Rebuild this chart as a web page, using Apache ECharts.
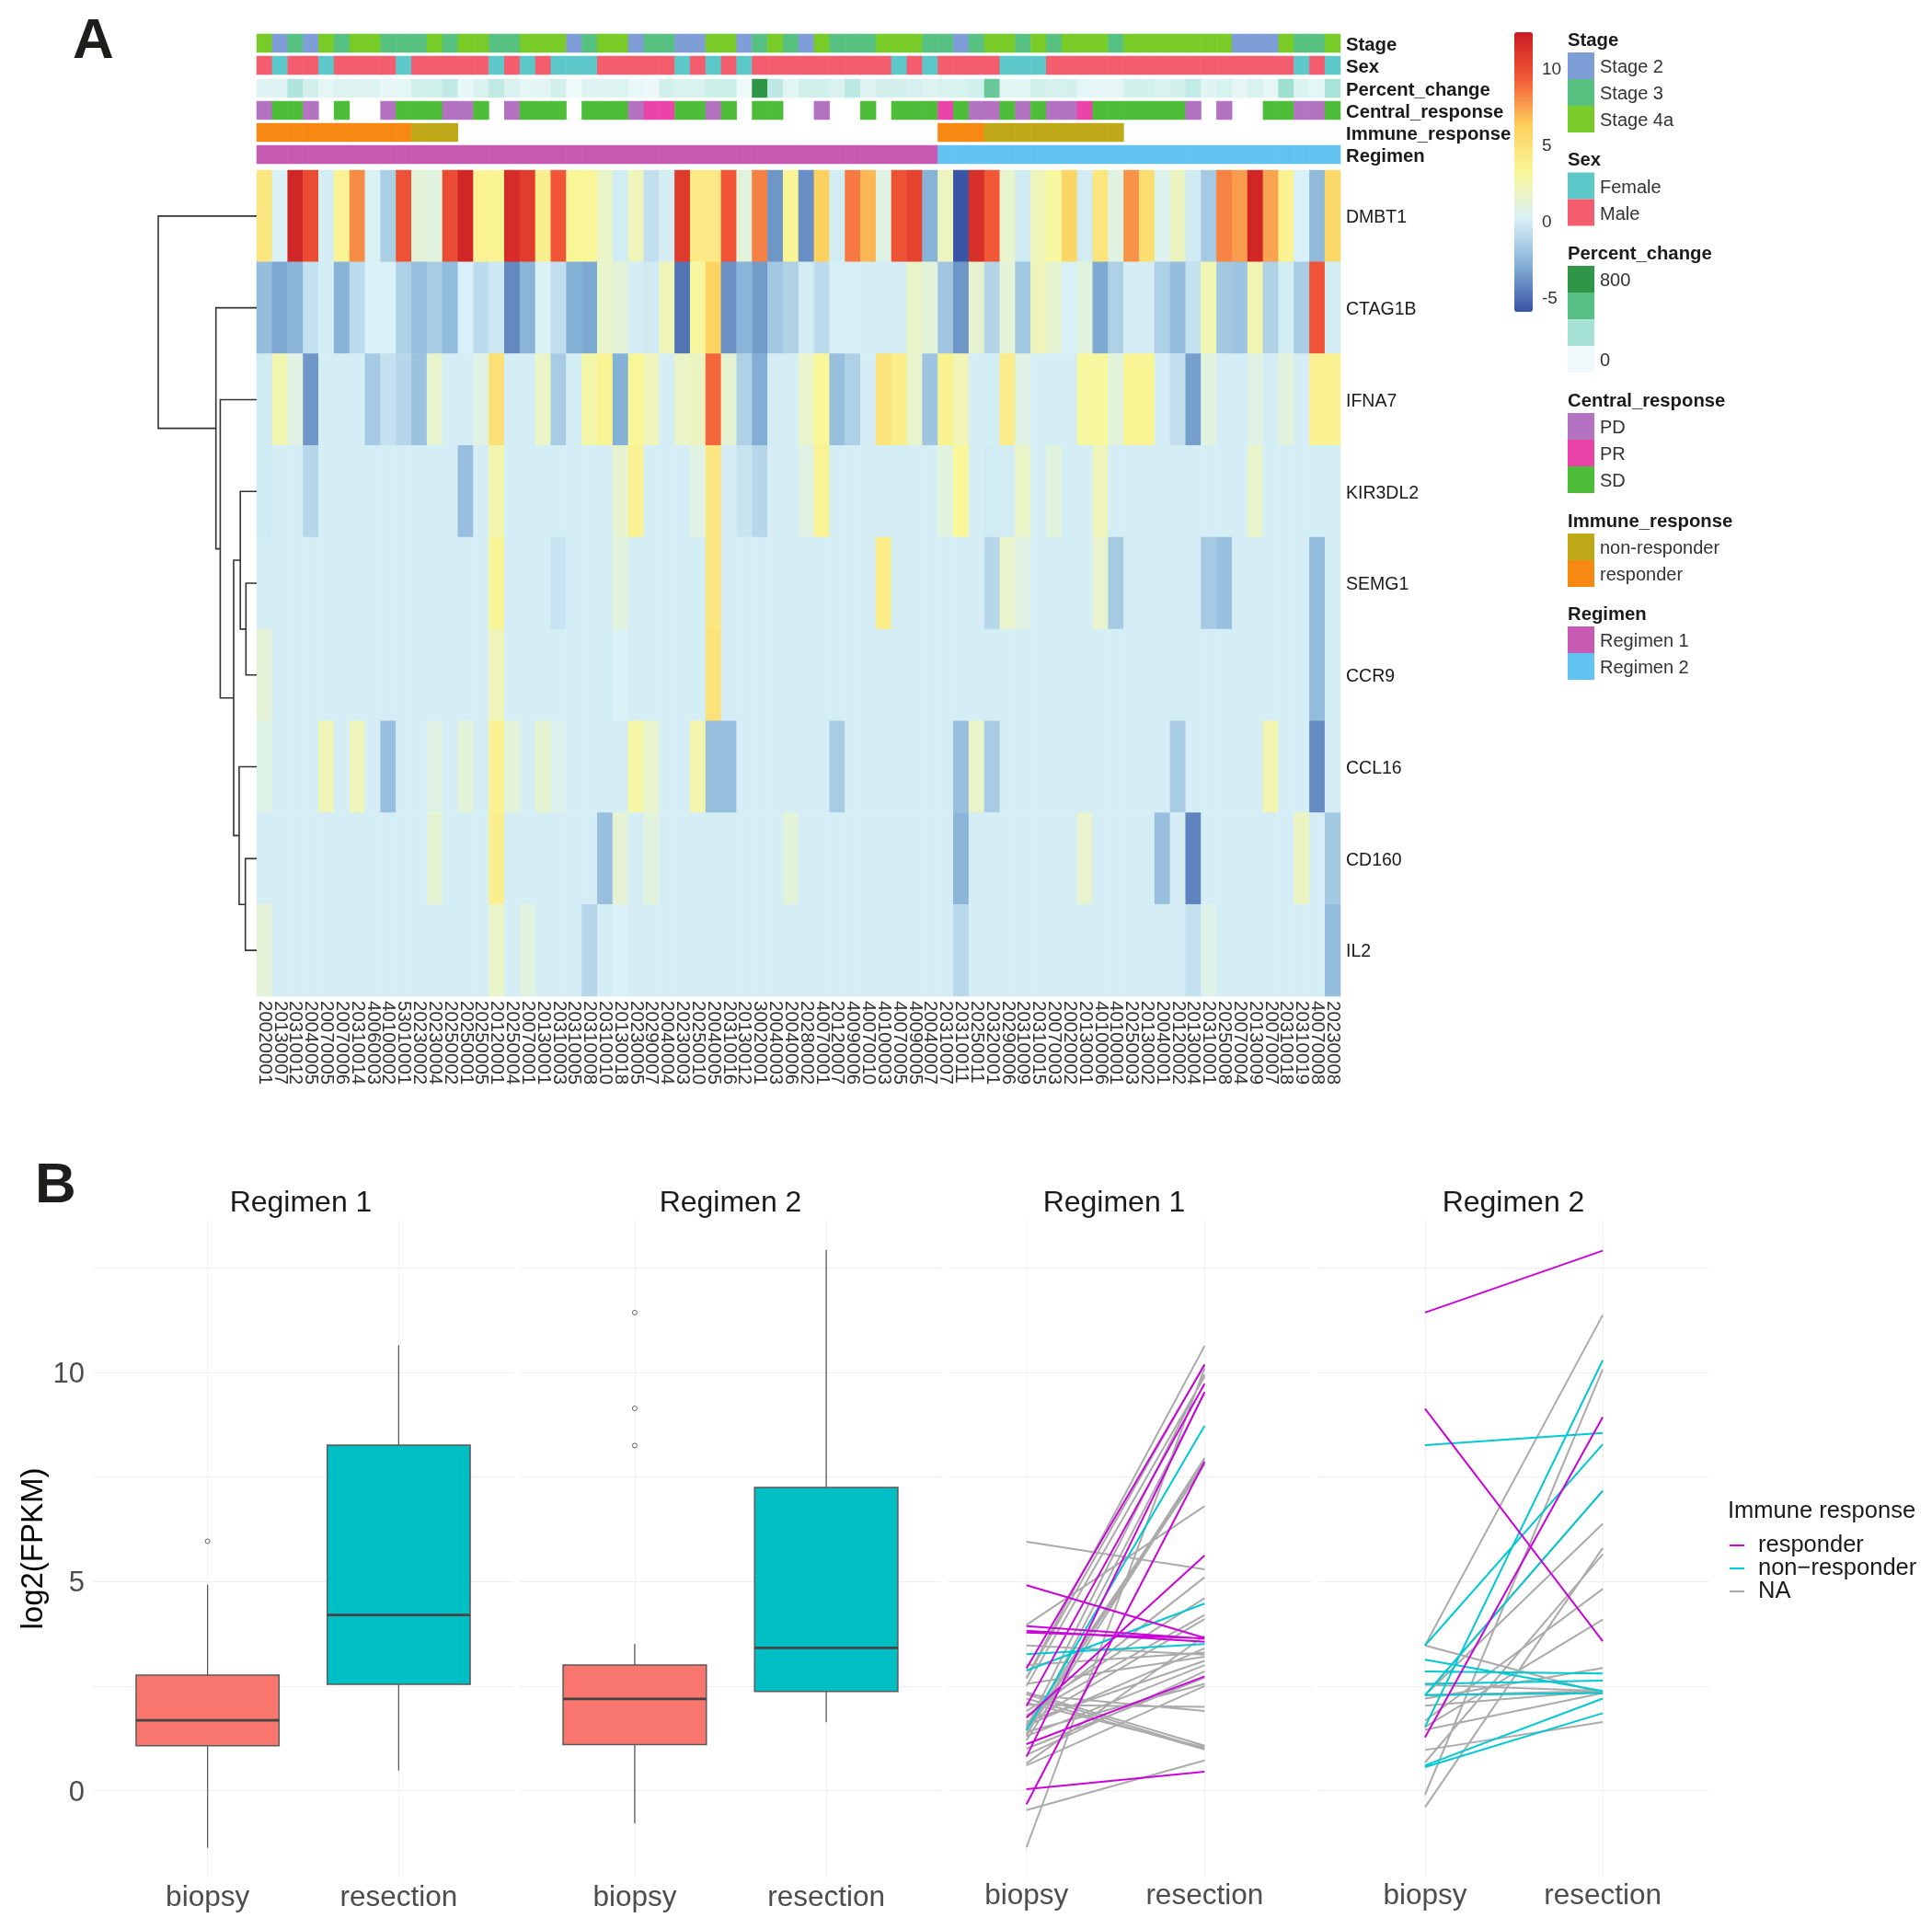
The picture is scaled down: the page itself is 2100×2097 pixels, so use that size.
<!DOCTYPE html>
<html>
<head>
<meta charset="utf-8">
<title>Heatmap and FPKM plots</title>
<style>
  html, body { margin: 0; padding: 0; background: #fff; }
  #main { width: 2100px; height: 2097px; }
</style>
<script src="https://cdn.jsdelivr.net/npm/echarts@6/dist/echarts.min.js"></script>
</head>
<body>
<div id="main"></div>
<script>
const sampleIds = ["20020001","20130007","20310012","20040005","20070005","20070006","20310014","40060003","40100002","53010001",
  "20230002","20230004","20250002","20250001","20250005","20120001","20250004","20070001","20130001","20310003",
  "20310005","20310008","20310010","20130018","20230005","20290007","20040004","20230003","20250010","20040005",
  "20310016","20130012","30020001","20040003","20040006","20280002","40070001","20120007","40090006","40070010",
  "40100003","40070005","40090005","20040007","20310007","20310011","20250011","20320001","20290006","20310009",
  "20310015","20070003","20020002","20130001","40100006","40100001","20250003","20130002","20040001","20120002",
  "20130004","20310001","20250008","20070004","20130009","20070007","20310018","20310019","40070008","20230008"];

const geneNames = ["DMBT1","CTAG1B","IFNA7","KIR3DL2","SEMG1","CCR9","CCL16","CD160","IL2"];

const DMBT1 = [4.5,0.2,11.8,10,0,3.5,8,0.2,-1.5,9.7,1.2,0.9,10,11.8,3.5,3.5,11.5,10.7,3.8,9.5,3.3,3.3,1.7,-0.1,2.2,-0.7,0,10.8,4.3,4.3,9.6,1,8.3,-3.8,3.4,-4,6.2,-0.1,8.5,6.9,0.8,9.7,10.4,-2.8,2,-5.9,11.3,9.4,1.6,-0.2,2.1,3,5.8,-0.1,4.6,0.9,7.8,5.2,0.5,1.9,-0.2,-1.7,8.2,7.6,11.8,7.4,3.6,0.1,-2.5,5.6];
const CTAG1B = [-2.3,-3.2,-2.7,-0.6,0,-2.8,-0.9,0.1,0.1,-1.4,-2.2,-1.6,-2.4,0.1,-0.9,-0.3,-4.2,-2.7,0.2,-0.7,-2.9,-3.2,1.6,1.1,0,-0.2,2.2,-4.9,3,6,-3.9,-2.7,-3.6,-1.8,-1.4,-0.1,-0.9,0.05,0.05,0,0,0,1.7,1.1,-1.9,-3.8,1.4,-1.2,1.2,-1.8,2.2,1.4,0.1,1,-3.1,-1.4,0,0,-1.4,-2.3,-0.6,2.4,-1.8,-2,2.4,-1.4,-0.1,-1.6,9.6,-0.1];
const IFNA7 = [-0.2,2.4,0.8,-3.8,0,0,0,-1.7,-0.6,-1.1,-2.1,1.5,0,0,0.8,5,0,0,1.8,-1.6,0,2.7,3.5,-2.9,3.3,2.2,0,1.7,1.9,9,1.4,-1.4,-3,0,0,1.6,3.2,-2.2,-1.4,0,4.7,4,1.5,-2,3.7,2.3,0,0,4,0.8,0,0,0,3,3,1,3.5,3.5,0,-0.7,-3.5,1,0,0,0.8,0,1,0,3.6,3.6];
const KIR3DL2 = [-0.2,0,0,-1.1,0,0,0,0,0,0,0,0,0,-2.2,0,2.5,0,0,0,0,0,0,0,1.4,3.6,0,0,0,0.8,4.5,0,-0.5,-1.1,0,0,0.8,3.5,0,0,0,0,0,0,0,1,3.2,0,-0.1,-0.05,1.7,0,1,0,0,2.1,0,0,0,0,0,0,0,0,0,1.6,0,0,0,0,0];
const SEMG1 = [0,0,0,0,0,0,0,0,0,0,0,0,0,0,0,3.4,0,0,0,-0.5,0,0,0,1,0,0,0,0,0,4.5,0,0,0,0,0,0,0,0,0,0,4,0,0,0,0,0,0,-1.1,1.6,0.8,0,0,0,0,1.5,-1.7,0,0,0,0,0,-1.7,-2.2,0,0,0,0,0,-2.4,0];
const CCR9 = [1.2,0,0,0,0,0,0,0,0,0,0,0,0,0,0,2.2,0,0,0,0,0,0,0,0.2,0,0,0,0,0,4.8,0,0,0,0,0,0,0,0,0,0,0,0,0,0,0,0,0,0,0,0,0,0,0,0,0,0,0,0,0,0,0,0,0,0,0,0,0,0,-2.4,0];
const CCL16 = [0.7,0,0,0,2.2,0,2.1,0,-2.2,0,0,0.8,0,1.1,0,3.6,1.2,0,1.4,0.5,0,0,0,0,2.8,1.6,0,0,2.6,-2.2,-2.2,0,0,0,0,0,0,-1.6,0,0,0,0,0,0,0,-2.2,1.7,-1.6,0,0,0,0,0,0,0,0,0,0,0,-1.6,0,0,0,0,0,2.4,0,0,-4.1,0];
const CD160 = [0,0,0,0,0,0,0,0,0,0,0,1.3,0,0,0,3.8,0,0,0,0,0,0,-2.2,1.3,0,1,0,0,0,0,0,0,0,0,1.1,0,0,0,0,0,0,0,0,0,0,-2.7,0,0,0,0,0,0,0,1.5,0,0,0,0,-2.2,0,-4.4,0,0,0,0,0,0,1.9,0,-1.8];
const IL2 = [1.2,0,0,0,0,0,0,0,0,0,0,0,0,0,0,1.7,0,0.9,0,0,0,-1.1,0,0.2,0,0,0,0,0,0,0,0,0,0,0,0,0,0,0,0,0,0,0,0,0,-1,0,0,0,0,0,0,0,0,0,0,0,0,0,0,-0.6,0.6,0,0,0,0,0,0,0,-2.3];
const geneValues = [DMBT1, CTAG1B, IFNA7, KIR3DL2, SEMG1, CCR9, CCL16, CD160, IL2];

const stageLevels = ["Stage 2","Stage 3","Stage 4a"];
const sexLevels = ["Female","Male"];
const percentLevels = ["800","","","0"];
const centralLevels = ["PD","PR","SD"];
const immuneLevels = ["non-responder","responder"];
const regimenLevels = ["Regimen 1","Regimen 2"];

const stageTrack = [2,0,1,0,2,1,2,2,1,1,1,2,1,2,2,1,1,2,2,2,0,1,2,2,0,1,1,0,0,2,2,0,1,2,1,0,2,1,1,1,2,2,2,1,1,0,1,2,2,1,2,1,2,2,2,1,2,2,2,2,2,2,2,0,0,0,2,1,1,2];
const sexTrack = [1,0,1,1,0,1,1,1,1,0,1,1,1,1,1,0,1,0,1,0,0,0,1,1,1,1,1,0,1,0,1,0,1,1,1,1,1,1,1,1,1,0,1,0,1,1,1,1,0,0,0,1,1,1,1,1,1,1,1,1,1,1,1,1,1,1,1,0,1,0];
const percentTrack = [60,60,230,100,40,70,70,70,30,40,110,120,170,30,80,170,80,40,45,110,5,60,60,70,25,10,110,80,80,130,130,5,800,180,50,110,110,80,190,60,100,100,90,70,85,85,110,470,45,45,110,90,100,40,40,40,105,105,80,100,160,60,85,40,85,40,290,75,35,260];
const centralTrack = [0,2,2,0,null,2,null,null,0,2,2,2,0,0,2,null,0,2,2,2,null,2,2,2,0,1,1,2,2,0,2,null,2,2,null,null,0,null,null,2,null,2,2,2,1,2,0,0,2,0,2,0,0,1,2,2,2,2,2,2,0,null,0,null,null,2,2,0,0,2];
const immuneTrack = [1,1,1,1,1,1,1,1,1,1,0,0,0,null,null,null,null,null,null,null,null,null,null,null,null,null,null,null,null,null,null,null,null,null,null,null,null,null,null,null,null,null,null,null,1,1,1,0,0,0,0,0,0,0,0,0,null,null,null,null,null,null,null,null,null,null,null,null,null,null];
const regimenTrack = [0,0,0,0,0,0,0,0,0,0,0,0,0,0,0,0,0,0,0,0,0,0,0,0,0,0,0,0,0,0,0,0,0,0,0,0,0,0,0,0,0,0,0,0,1,1,1,1,1,1,1,1,1,1,1,1,1,1,1,1,1,1,1,1,1,1,1,1,1,1];

// [first child, second child, height]; ids below 9 are genes, merges count on from 9
const dendroMerges = [[4,5,0.109],[3,9,0.166],[7,8,0.115],[6,11,0.178],[10,12,0.234],[2,13,0.37],[1,14,0.414],[0,15,1]];

const colorbarTicks = [10,5,0,-5];
const fpkmLabelTicks = [0,5,10];
const fpkmGridTicks = [0,2.5,5,7.5,10,12.5];
const sampleTypes = ["biopsy","resection"];

// low, q1, median, q3, high
const reg1Biopsy = [-1.37,1.07,1.68,2.76,4.92];
const reg1Resection = [0.48,2.54,4.2,8.26,10.65];
const reg2Biopsy = [-0.79,1.1,2.19,3,3.5];
const reg2Resection = [1.63,2.37,3.41,7.25,12.93];
const reg1Outliers = [5.96];
const reg2Outliers = [11.43,9.14,8.25];

// pairs are [biopsy, resection]
const reg1Responder = [[4.91,3.65],[3.93,3.63],[3.82,3.56],[3.78,3.64],[2.92,10.18],[2.02,9.73],[1.74,5.62],[0.81,9.53],[1.11,2.73],[0.03,0.45],[-0.33,7.86]];
const reg1NonResponder = [[1.44,8.72],[3.26,3.5],[2.87,4.47]];
const reg1Unknown = [[5.95,5.29],[3.96,6.8],[2.7,10.63],[3.47,3.25],[2.68,10.2],[2.5,9.9],[1.5,9.95],[1.3,9.5],[1.35,7.95],[1.45,7.8],[1.2,7.9],[1.55,7.85],[-1.36,10.1],[2.55,3.2],[3,3.3],[2.3,1.9],[2.35,1.07],[2.2,0.98],[2.3,1],[2.1,1.03],[2.05,2],[1.9,4.6],[1.8,4.2],[1.75,5.1],[1.65,3.1],[1.6,4.1],[1.55,3.4],[1,2.7],[0.6,2.5],[0.85,2.85],[0.65,3.7],[-0.47,0.72],[1.4,2.55],[1.3,3]];
const reg2Responder = [[11.43,12.91],[9.13,3.57],[1.27,8.93]];
const reg2NonResponder = [[8.26,8.55],[3.47,8.28],[1.52,10.29],[2.28,7.17],[3.13,2.38],[2.85,2.8],[2.55,2.63],[2.28,2.33],[0.6,2.2],[0.56,1.85]];
const reg2Unknown = [[3.47,11.37],[3.47,2.33],[-0.1,10.07],[-0.4,5.8],[0.67,5.65],[0.97,1.64],[1.45,2.33],[1.67,4.82],[1.52,4.09],[2.03,2.38],[2.2,2.93],[2.28,7.17],[2.28,6.38],[2.53,2.38],[2.28,2.38]];

const FONT = "'Liberation Sans', Arial, sans-serif";
const HEAT_LEFT = 279, HEAT_WIDTH = 1178;
const FPKM_MIN = -2.08, FPKM_MAX = 13.65;
const BOX_HALF = 0.374;

let grid = [], xAxis = [], yAxis = [], series = [], visualMap = [], graphic = [];

function addText(text, x, y, size, color, opts) {
  graphic.push({
    type: "text", x: x, y: y + 2, silent: true,
    style: {
      text: text, fill: color,
      font: ((opts && opts.bold) ? "bold " : "") + size + "px " + FONT,
      textAlign: (opts && opts.align) || "left", textVerticalAlign: "middle"
    }
  });
}

// ---- annotation tracks above the heatmap
const tracks = [
  { name: "Stage", top: 37, values: stageTrack, colors: ["#7f9ed8","#56c180","#79cb28"] },
  { name: "Sex", top: 61, values: sexTrack, colors: ["#5cc8c9","#f45d6e"] },
  { name: "Percent_change", top: 86, values: percentTrack, ramp: ["#eff9fb","#a6e2d6","#56c084","#2f9648"] },
  { name: "Central_response", top: 110, values: centralTrack, colors: ["#b473c0","#eb44a9","#4dbd3a"] },
  { name: "Immune_response", top: 134, values: immuneTrack, colors: ["#c0a918","#f78812"] },
  { name: "Regimen", top: 158, values: regimenTrack, colors: ["#c65ab2","#60c3f0"] }
];

tracks.forEach(function (t, i) {
  grid.push({ left: HEAT_LEFT, width: HEAT_WIDTH, top: t.top, height: 20 });
  xAxis.push({ gridIndex: i, type: "category", data: sampleIds, show: false });
  yAxis.push({
    gridIndex: i, type: "category", data: [t.name], position: "right",
    axisLine: { show: false }, axisTick: { show: false },
    axisLabel: { color: "#1a1a1a", fontFamily: FONT, fontWeight: "bold", fontSize: 20.3, margin: 6, verticalAlign: "top", lineHeight: 5 }
  });
  let cells = [];
  t.values.forEach(function (v, col) {
    if (v !== null) cells.push([col, 0, v]);
  });
  series.push({ type: "heatmap", xAxisIndex: i, yAxisIndex: i, data: cells, silent: true });
  if (t.ramp) {
    visualMap.push({ type: "continuous", show: false, min: 0, max: 800, seriesIndex: i, inRange: { color: t.ramp } });
  } else {
    visualMap.push({
      type: "piecewise", show: false, seriesIndex: i,
      pieces: t.colors.map(function (c, k) { return { value: k, color: c }; })
    });
  }
});

// ---- main heatmap
const HEAT = grid.length;
grid.push({ left: HEAT_LEFT, width: HEAT_WIDTH, top: 185, height: 898 });
xAxis.push({
  gridIndex: HEAT, type: "category", data: sampleIds,
  axisLine: { show: false }, axisTick: { show: false },
  axisLabel: { interval: 0, rotate: -90, color: "#333", fontFamily: FONT, fontSize: 20.5, margin: 5 }
});
yAxis.push({
  gridIndex: HEAT, type: "category", data: geneNames, inverse: true, position: "right",
  axisLine: { show: false }, axisTick: { show: false },
  axisLabel: { color: "#1a1a1a", fontFamily: FONT, fontSize: 19.5, margin: 6, verticalAlign: "top", lineHeight: 4 }
});
let heatCells = [];
geneValues.forEach(function (vals, row) {
  vals.forEach(function (v, col) { heatCells.push([col, row, v]); });
});
series.push({ type: "heatmap", xAxisIndex: HEAT, yAxisIndex: HEAT, data: heatCells, silent: true });
visualMap.push({
  type: "continuous", seriesIndex: HEAT, min: -5.96, max: 12.35,
  left: 1646, top: 35, itemWidth: 20, itemHeight: 304, padding: 0,
  calculable: false, hoverLink: false, silent: true,
  inRange: { color: ["#3953a4","#84b1d6","#d9f1f7","#f9f79a","#fdd05c","#f35a38","#c91a22"] }
});

// ---- row dendrogram, x is merge height and y is row position
const DENDRO = grid.length;
grid.push({ left: 172, width: 107, top: 185, height: 898 });
xAxis.push({ gridIndex: DENDRO, type: "value", min: 0, max: 1, inverse: true, show: false });
yAxis.push({ gridIndex: DENDRO, type: "value", min: 0, max: geneNames.length, inverse: true, show: false });
let nodes = geneNames.map(function (n, i) { return { y: i + 0.5, h: 0 }; });
let dendroLinks = [];
dendroMerges.forEach(function (m) {
  let a = nodes[m[0]], b = nodes[m[1]];
  dendroLinks.push({ coords: [[a.h, a.y], [m[2], a.y], [m[2], b.y], [b.h, b.y]] });
  nodes.push({ y: (a.y + b.y) / 2, h: m[2] });
});
series.push({
  type: "lines", coordinateSystem: "cartesian2d", polyline: true, silent: true,
  xAxisIndex: DENDRO, yAxisIndex: DENDRO, data: dendroLinks,
  lineStyle: { color: "#333", width: 1.6, opacity: 1 }
});

// ---- facets of panel B
function addFacet(left, width, xMin, xMax, showY, labelMargin) {
  let idx = grid.length;
  grid.push({ left: left, width: width, top: 1326, height: 715 });
  xAxis.push({
    gridIndex: idx, type: "value", min: xMin, max: xMax,
    axisLine: { show: false },
    axisTick: { show: false, customValues: [1, 2] },
    splitLine: { show: true, lineStyle: { color: "#f0f0f0", width: 1 } },
    axisLabel: {
      customValues: [1, 2], color: "#4d4d4d", fontFamily: FONT, fontSize: 31.5, margin: labelMargin,
      formatter: function (v) { return sampleTypes[v - 1]; }
    }
  });
  yAxis.push({
    gridIndex: idx, type: "value", min: FPKM_MIN, max: FPKM_MAX,
    name: showY ? "log2(FPKM)" : "", nameLocation: "middle", nameGap: 47,
    nameTextStyle: { color: "#000", fontFamily: FONT, fontSize: 33 },
    axisLine: { show: false },
    axisTick: { show: false, customValues: fpkmGridTicks },
    splitLine: { show: true, lineStyle: { color: "#f0f0f0", width: 1 } },
    axisLabel: {
      show: showY, customValues: fpkmLabelTicks, color: "#4d4d4d",
      fontFamily: FONT, fontSize: 31, margin: 9, verticalAlign: "top", lineHeight: 5
    }
  });
  return idx;
}

function renderBox(params, api) {
  let x = api.value(0);
  let low = api.coord([x, api.value(1)]);
  let q1 = api.coord([x, api.value(2)]);
  let med = api.value(3);
  let q3 = api.coord([x, api.value(4)]);
  let high = api.coord([x, api.value(5)]);
  let medL = api.coord([x - BOX_HALF, med]);
  let medR = api.coord([x + BOX_HALF, med]);
  let whisker = { stroke: "#5a5a5a", lineWidth: 1.3 };
  return {
    type: "group",
    children: [
      { type: "line", shape: { x1: low[0], y1: low[1], x2: q1[0], y2: q1[1] }, style: whisker },
      { type: "line", shape: { x1: q3[0], y1: q3[1], x2: high[0], y2: high[1] }, style: whisker },
      {
        type: "rect",
        shape: { x: medL[0], y: q3[1], width: medR[0] - medL[0], height: q1[1] - q3[1] },
        style: { fill: x === 1 ? "#f8766d" : "#00bfc4", stroke: "#5a5a5a", lineWidth: 1.5 }
      },
      { type: "line", shape: { x1: medL[0], y1: medL[1], x2: medR[0], y2: medR[1] }, style: { stroke: "#444", lineWidth: 2.8 } }
    ]
  };
}

function addBoxes(idx, biopsy, resection, outliers) {
  series.push({
    type: "custom", xAxisIndex: idx, yAxisIndex: idx, renderItem: renderBox, silent: true,
    encode: { x: 0, y: [1, 2, 3, 4, 5] },
    data: [[1].concat(biopsy), [2].concat(resection)]
  });
  series.push({
    type: "scatter", xAxisIndex: idx, yAxisIndex: idx, silent: true, symbolSize: 5,
    itemStyle: { color: "#fff", borderColor: "#666", borderWidth: 1, opacity: 1 },
    data: outliers.map(function (v) { return [1, v]; })
  });
}

function addPairs(idx, name, color, pairs) {
  let pts = [];
  pairs.forEach(function (p) {
    pts.push([1, p[0]], [2, p[1]], [1, "-"]);
  });
  series.push({
    type: "line", name: name, xAxisIndex: idx, yAxisIndex: idx, silent: true,
    showSymbol: false, symbol: "none", connectNulls: false, data: pts,
    lineStyle: { color: color, width: 2 }, itemStyle: { color: color }
  });
}

const RESP = "responder", NONRESP = "non\u2212responder", NA = "NA";
const RESP_C = "#c905d8", NONRESP_C = "#00c9d1", NA_C = "#ababab";

addBoxes(addFacet(101, 457, 0.4, 2.6, true, 6), reg1Biopsy, reg1Resection, reg1Outliers);
addBoxes(addFacet(565, 458, 0.4, 2.6, false, 6), reg2Biopsy, reg2Resection, reg2Outliers);

const LINE1 = addFacet(1030, 396, 0.557, 2.603, false, 4);
addPairs(LINE1, NA, NA_C, reg1Unknown);
addPairs(LINE1, NONRESP, NONRESP_C, reg1NonResponder);
addPairs(LINE1, RESP, RESP_C, reg1Responder);

const LINE2 = addFacet(1433, 425, 0.4, 2.6, false, 4);
addPairs(LINE2, NA, NA_C, reg2Unknown);
addPairs(LINE2, NONRESP, NONRESP_C, reg2NonResponder);
addPairs(LINE2, RESP, RESP_C, reg2Responder);

// ---- text and key boxes
addText("A", 79, 44, 62, "#1d1d1b", { bold: true });
addText("B", 38, 1288, 62, "#1d1d1b", { bold: true });

colorbarTicks.forEach(function (v) {
  addText(String(v), 1676, 35 + (12.35 - v) * 16.6, 19, "#333");
});

const keyBlocks = [
  { title: "Stage", top: 57, levels: stageLevels, colors: tracks[0].colors },
  { title: "Sex", top: 187.5, levels: sexLevels, colors: tracks[1].colors },
  { title: "Percent_change", top: 289, levels: percentLevels, colors: tracks[2].ramp.slice().reverse() },
  { title: "Central_response", top: 449, levels: centralLevels, colors: tracks[3].colors },
  { title: "Immune_response", top: 580, levels: immuneLevels, colors: tracks[4].colors },
  { title: "Regimen", top: 681, levels: regimenLevels, colors: tracks[5].colors }
];
keyBlocks.forEach(function (b) {
  addText(b.title, 1704, b.top - 15, 20.3, "#1a1a1a", { bold: true });
  b.levels.forEach(function (label, k) {
    graphic.push({
      type: "rect", silent: true,
      shape: { x: 1704, y: b.top + k * 29, width: 29, height: 29 },
      style: { fill: b.colors[k] }
    });
    if (label) addText(label, 1739, b.top + k * 29 + 14.5, 20, "#333");
  });
});

addText("Regimen 1", 327, 1306, 32, "#1a1a1a", { align: "center" });
addText("Regimen 2", 794, 1306, 32, "#1a1a1a", { align: "center" });
addText("Regimen 1", 1211, 1306, 32, "#1a1a1a", { align: "center" });
addText("Regimen 2", 1645, 1306, 32, "#1a1a1a", { align: "center" });
addText("Immune response", 1878, 1641, 25.5, "#1a1a1a");

let myChart = echarts.init(document.getElementById("main"), null, { renderer: "canvas" });
myChart.setOption({
  animation: false,
  backgroundColor: "#fff",
  textStyle: { fontFamily: FONT },
  grid: grid,
  xAxis: xAxis,
  yAxis: yAxis,
  visualMap: visualMap,
  legend: {
    orient: "vertical", left: 1880, top: 1667, padding: 0,
    icon: "rect", itemWidth: 16, itemHeight: 2, itemGap: -1, selectedMode: false,
    data: [RESP, NONRESP, NA],
    textStyle: { color: "#1a1a1a", fontFamily: FONT, fontSize: 25.5, lineHeight: 24.5, padding: [0, 0, 0, 10] }
  },
  series: series,
  graphic: graphic
});
</script>
</body>
</html>
